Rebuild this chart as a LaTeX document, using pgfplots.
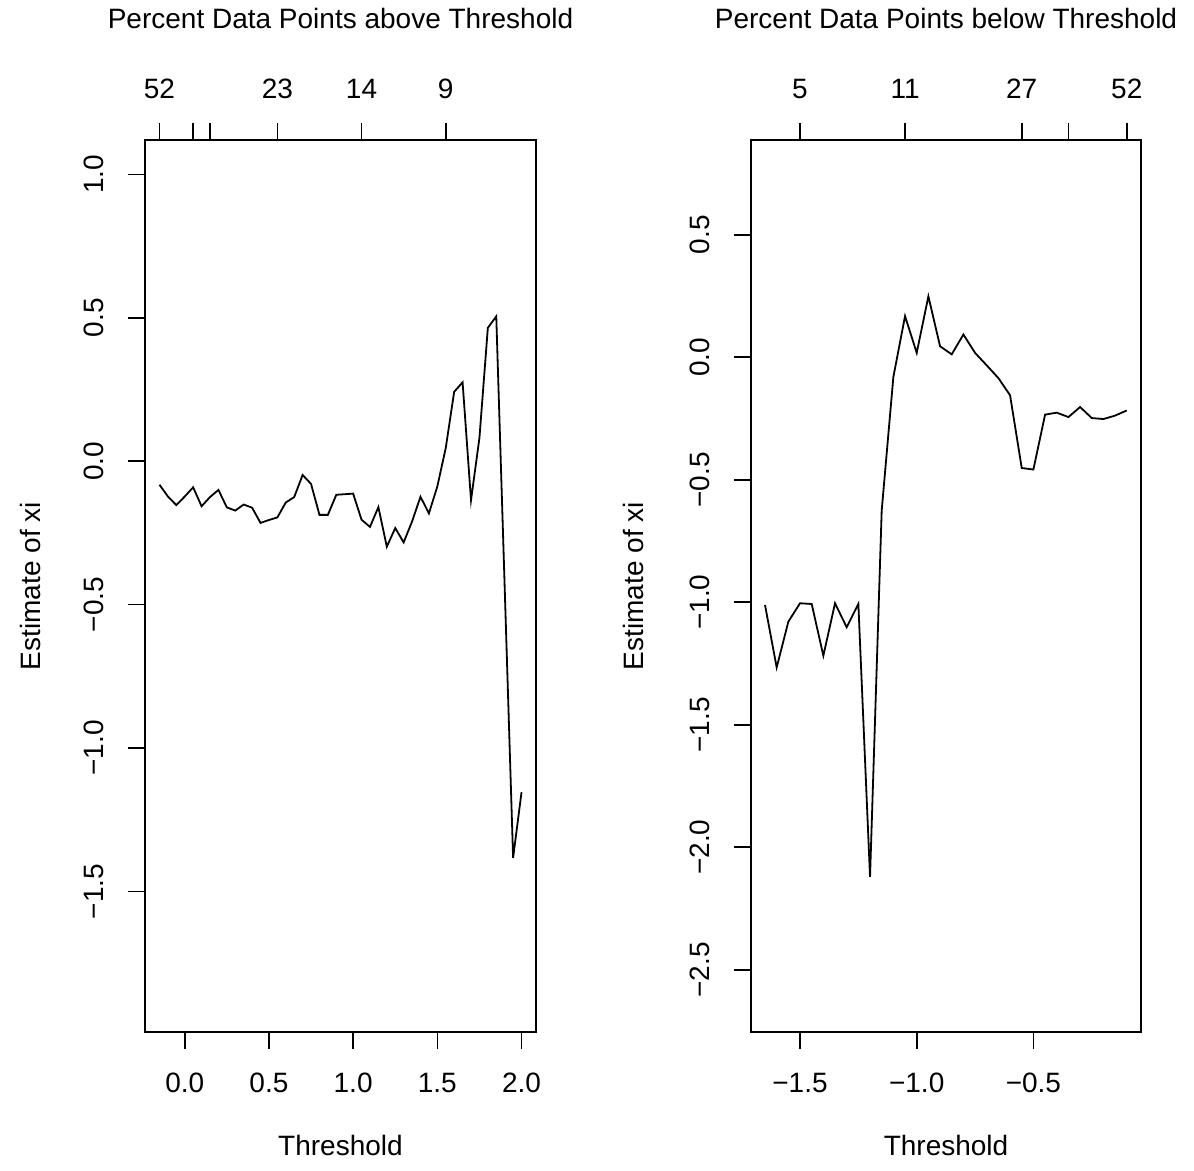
\documentclass[border=0pt]{standalone}
\usepackage{fontspec}
\setmainfont{Liberation Sans}
\usepackage{pgfplots}
\pgfplotsset{compat=1.18}

% xi estimates against threshold, upper and lower tail
\pgfplotstableread{
x y
-0.15 -0.082
-0.10 -0.123
-0.05 -0.153
0.00 -0.123
0.05 -0.091
0.10 -0.157
0.15 -0.125
0.20 -0.100
0.25 -0.161
0.30 -0.172
0.35 -0.151
0.40 -0.162
0.45 -0.215
0.50 -0.205
0.55 -0.196
0.60 -0.144
0.65 -0.125
0.70 -0.048
0.75 -0.079
0.80 -0.187
0.85 -0.187
0.90 -0.117
0.95 -0.115
1.00 -0.113
1.05 -0.204
1.10 -0.229
1.15 -0.160
1.20 -0.298
1.25 -0.233
1.30 -0.283
1.35 -0.210
1.40 -0.124
1.45 -0.182
1.50 -0.088
1.55 0.046
1.60 0.242
1.65 0.275
1.70 -0.136
1.75 0.081
1.80 0.465
1.85 0.505
1.90 -0.440
1.95 -1.383
2.00 -1.154
}\uppertab

\pgfplotstableread{
x y
-1.65 -1.011
-1.60 -1.266
-1.55 -1.079
-1.50 -1.004
-1.45 -1.007
-1.40 -1.218
-1.35 -1.004
-1.30 -1.102
-1.25 -1.007
-1.20 -2.121
-1.15 -0.625
-1.10 -0.080
-1.05 0.168
-1.00 0.018
-0.95 0.249
-0.90 0.045
-0.85 0.012
-0.80 0.093
-0.75 0.018
-0.70 -0.033
-0.65 -0.085
-0.60 -0.155
-0.55 -0.452
-0.50 -0.458
-0.45 -0.234
-0.40 -0.226
-0.35 -0.244
-0.30 -0.203
-0.25 -0.248
-0.20 -0.252
-0.15 -0.238
-0.10 -0.217
}\lowertab

\pgfplotsset{
  rbase/.style={
    scale only axis, height=446pt, anchor=south west,
    tick align=outside, major tick length=8.5pt,
    axis line style={line width=0.8pt},
    tick style={line width=0.8pt, black},
    tick label style={font=\fontsize{14}{17}\selectfont},
    label style={font=\fontsize{14}{17}\selectfont},
    title style={font=\fontsize{14}{17}\selectfont},
  },
  rplot/.style={
    rbase, xtick pos=left, ytick pos=left,
    xticklabel style={yshift=-8.5pt},
    yticklabel style={xshift=-8.5pt, rotate=90, anchor=south},
    xlabel style={at={(axis description cs:0.5,-0.1267)}, anchor=center},
    xlabel={Threshold}, ylabel={Estimate of xi},
  },
  rtop/.style={
    rbase, ymin=0, ymax=1, axis x line*=top, axis y line=none,
    xticklabel style={yshift=8.5pt},
    title style={at={(axis description cs:0.5,1.1222)}, anchor=center},
  },
}

\begin{document}
\begin{tikzpicture}
\path[use as bounding box] (0,0) rectangle (597pt,585.5pt);

\begin{axis}[rplot, at={(72.5pt,69.5pt)}, width=195.5pt,
  xmin=-0.236, xmax=2.086, ymin=-1.99, ymax=1.12,
  xtick={0,0.5,1,1.5,2}, xticklabels={0.0,0.5,1.0,1.5,2.0},
  ytick={-1.5,-1,-0.5,0,0.5,1},
  yticklabels={−1.5,−1.0,−0.5,0.0,0.5,1.0},
  ylabel style={at={(axis description cs:-0.294,0.5)}, anchor=center}]
\addplot[black, line width=0.9pt] table {\uppertab};
\end{axis}
\begin{axis}[rtop, at={(72.5pt,69.5pt)}, width=195.5pt,
  xmin=-0.236, xmax=2.086,
  xtick={-0.15,0.05,0.15,0.55,1.05,1.55}, xticklabels={52,,,23,14,9},
  title={Percent Data Points above Threshold}]
\end{axis}

\begin{axis}[rplot, at={(375.5pt,69.5pt)}, width=195pt,
  xmin=-1.71, xmax=-0.039, ymin=-2.754, ymax=0.887,
  xtick={-1.5,-1,-0.5}, xticklabels={−1.5,−1.0,−0.5},
  ytick={-2.5,-2,-1.5,-1,-0.5,0,0.5},
  yticklabels={−2.5,−2.0,−1.5,−1.0,−0.5,0.0,0.5},
  ylabel style={at={(axis description cs:-0.3026,0.5)}, anchor=center}]
\addplot[black, line width=0.9pt] table {\lowertab};
\end{axis}
\begin{axis}[rtop, at={(375.5pt,69.5pt)}, width=195pt,
  xmin=-1.71, xmax=-0.039,
  xtick={-1.5,-1.05,-0.55,-0.35,-0.1}, xticklabels={5,11,27,,52},
  title={Percent Data Points below Threshold}]
\end{axis}
\end{tikzpicture}
\end{document}
